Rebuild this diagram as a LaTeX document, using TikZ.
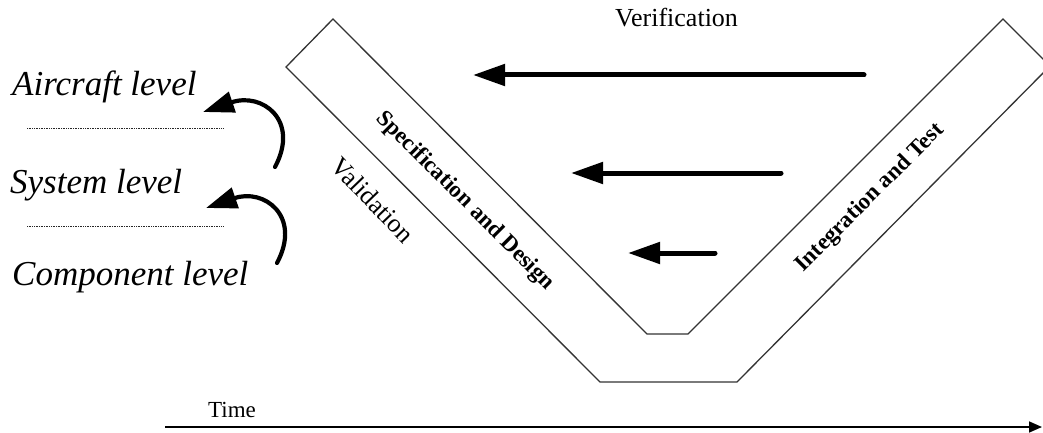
\documentclass[tikz,border=0pt]{standalone}
\usepackage{fontspec}
\setmainfont{Liberation Serif}
\usetikzlibrary{arrows.meta}

\tikzset{
  vband/.style={draw=black!80, line width=1.3pt, line join=miter},
  levellabel/.style={inner sep=0pt, anchor=base west, font=\fontsize{35}{40}\selectfont\itshape},
  armlabel/.style={inner sep=0pt, font=\fontsize{23}{27}\selectfont\bfseries},
  plainlabel/.style={inner sep=0pt, font=\fontsize{26}{30}\selectfont},
  levelsep/.style={draw=black!85, line width=0.9pt, dash pattern=on 1pt off 0.7pt},
  verarrow/.style={line width=5pt, line cap=round, -{Triangle[length=32pt,width=21pt]}},
  uparrow/.style={line width=4.2pt, line cap=round, -{Triangle[length=31pt,width=21pt]}},
  timearrow/.style={line width=1.6pt, -{Triangle[length=13pt,width=11pt]}}
}

\begin{document}
\begin{tikzpicture}[x=1pt,y=-1pt]
  \useasboundingbox (0,0) rectangle (1043,433);
  \clip (0,0) rectangle (1043,433);

  % V-shaped band: specification arm, bottom and integration arm
  \draw[vband] (286,67) -- (333,19) -- (647,334) -- (688,334) -- (1003,19)
               -- (1050,66) -- (737,382) -- (600,382) -- cycle;

  % labels along the arms
  \node[armlabel, rotate=-45] (spec) at (465,201) {Specification and Design};
  \node[armlabel, rotate=45] (integ) at (870,198) {Integration and Test};
  \node[plainlabel, rotate=-46] (valid) at (373,200) {Validation};
  \node[plainlabel, anchor=base west] (verif) at (615,27) {Verification};

  % verification arrows, right arm to left arm
  \coordinate (v1s) at (864,75);  \coordinate (v1e) at (473,75);
  \coordinate (v2s) at (781,173); \coordinate (v2e) at (571,173);
  \coordinate (v3s) at (715,253); \coordinate (v3e) at (628,253);
  \draw[verarrow] (v1s) -- (v1e);
  \draw[verarrow] (v2s) -- (v2e);
  \draw[verarrow] (v3s) -- (v3e);

  % abstraction levels
  \node[levellabel] (aircraft) at (12,96) {Aircraft level};
  \node[levellabel] (system) at (10,193) {System level};
  \node[levellabel] (component) at (12,285) {Component level};

  \coordinate (s1a) at (27,128);  \coordinate (s1b) at (223,128);
  \coordinate (s2a) at (27,226);  \coordinate (s2b) at (223,226);
  \draw[levelsep] (s1a) -- (s1b);
  \draw[levelsep] (s2a) -- (s2b);

  % curved arrows climbing one level
  \coordinate (c1s) at (275,167); \coordinate (c1e) at (203,112);
  \coordinate (c2s) at (277,263); \coordinate (c2e) at (206,208);
  \draw[uparrow] (c1s) .. controls (300,120) and (262,92) .. (c1e);
  \draw[uparrow] (c2s) .. controls (302,216) and (264,188) .. (c2e);

  % time axis
  \node[inner sep=0pt, anchor=base west, font=\fontsize{23}{26}\selectfont] (time) at (208,417) {Time};
  \coordinate (t0) at (165,427); \coordinate (t1) at (1042,427);
  \draw[timearrow] (t0) -- (t1);
\end{tikzpicture}
\end{document}
